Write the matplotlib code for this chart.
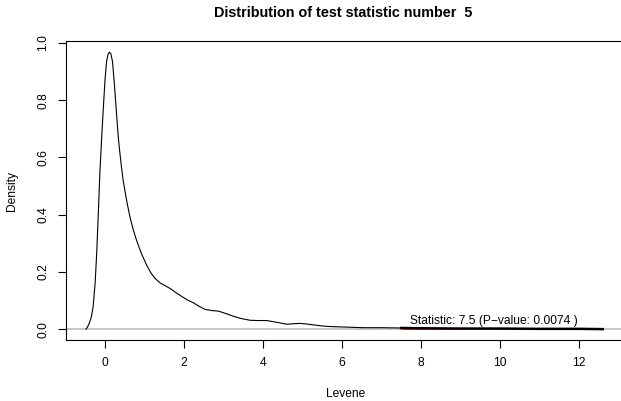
import numpy as np
import matplotlib.pyplot as plt

plt.rcParams['font.family'] = ['Liberation Sans', 'DejaVu Sans']

# density curve of the simulated statistic
dens_x = [-0.48, -0.44, -0.40, -0.35, -0.30, -0.25, -0.21, -0.17, -0.13, -0.08,
          -0.04, 0.00, 0.04, 0.08, 0.11, 0.15, 0.19, 0.23, 0.28, 0.32, 0.36,
          0.41, 0.46, 0.54, 0.63, 0.71, 0.80, 0.92, 1.06, 1.17, 1.27, 1.39,
          1.52, 1.65, 1.80, 1.98, 2.10, 2.24, 2.38, 2.53, 2.70, 2.87, 3.05,
          3.25, 3.45, 3.67, 3.88, 4.09, 4.35, 4.60, 4.78, 4.94, 5.10, 5.27,
          5.50, 5.70, 5.90, 6.12, 6.54, 6.96, 7.50]
dens_y = [0.0, 0.008, 0.02, 0.04, 0.078, 0.16, 0.265, 0.40, 0.545, 0.68,
          0.777, 0.87, 0.935, 0.962, 0.968, 0.962, 0.935, 0.87, 0.777, 0.70, 0.637,
          0.575, 0.52, 0.455, 0.393, 0.35, 0.31, 0.265, 0.222, 0.195, 0.177, 0.162,
          0.152, 0.142, 0.127, 0.111, 0.101, 0.092, 0.080, 0.069, 0.065, 0.063, 0.055,
          0.045, 0.037, 0.031, 0.030, 0.030, 0.024, 0.017, 0.019, 0.020, 0.018, 0.015,
          0.011, 0.009, 0.008, 0.007, 0.005, 0.005, 0.004]
tail_x = [7.50, 8.0, 9.0, 10.0, 11.0, 12.0, 12.6]
tail_y = [0.004, 0.003, 0.002, 0.002, 0.001, 0.001, 0.0]

statistic = 7.5
p_value = 0.0074
x_ticks = [0, 2, 4, 6, 8, 10, 12]
y_ticks = [0.0, 0.2, 0.4, 0.6, 0.8, 1.0]

fs = 8.64  # 12 px text, like the R device

fig = plt.figure(figsize=(6.21, 4.01), dpi=100)
ax = fig.add_axes([66 / 621, 61 / 401, 560 / 621, 299 / 401])

ax.axhline(0, color='#bebebe', lw=1.2, zorder=1)
ax.plot(dens_x, dens_y, color='black', lw=0.8, zorder=3, solid_joinstyle='round')
ax.fill_between(tail_x, tail_y, 0, color='#cc0000', lw=0, zorder=2)
ax.plot(tail_x, tail_y, color='black', lw=1.8, zorder=3)
ax.text(7.72, 0.007, 'Statistic: %s (P\u2212value: %s )' % (statistic, p_value),
        ha='left', va='bottom', fontsize=fs)

ax.set_xlim(-0.987, 13.19)
ax.set_ylim(-0.038, 1.007)
ax.set_xticks(x_ticks)
ax.set_yticks(y_ticks)
ax.set_yticklabels(['%.1f' % v for v in y_ticks], rotation=90, va='center')
ax.tick_params(direction='out', length=6, width=0.8, labelsize=fs, pad=6)
for s in ax.spines.values():
    s.set_linewidth(0.8)

ax.set_xlabel('Levene', fontsize=fs, labelpad=14)
ax.set_ylabel('Density', fontsize=fs, labelpad=14)
fig.text(343.5 / 621, 1 - 13 / 401, 'Distribution of test statistic number  5',
         ha='center', va='center', fontsize=10.4, fontweight='bold')

fig.savefig('out.png', dpi=100)
